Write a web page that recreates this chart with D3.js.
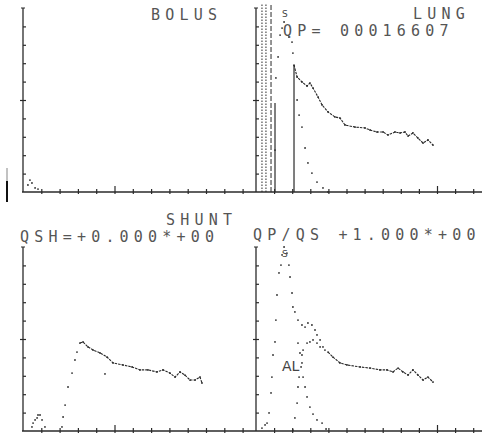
<!DOCTYPE html>
<html>
<head>
<meta charset="utf-8">
<script src="https://cdn.jsdelivr.net/npm/d3@7"></script>
<style>
  body { margin: 0; background: #fff; }
  svg { display: block; }
</style>
</head>
<body>
<div id="chart"></div>
<script>
// Chart values, [time, counts].
const bolus = [[0.27, 0.38], [0.38, 0.65], [0.49, 0.49], [0.66, 0.22], [0.82, 0.16]];

const lungFirstPass = [
  [1.05, 2.28], [1.10, 6.20], [1.22, 7.34], [1.33, 8.53], [1.44, 8.91], [1.55, 9.24],
  [1.82, 8.42], [1.99, 8.15], [2.04, 7.55], [2.27, 5.00], [2.38, 4.18], [2.54, 3.53],
  [2.71, 2.39], [2.87, 1.58], [3.09, 1.03], [3.37, 0.54], [3.70, 0.22], [3.98, 0.00]
];
const lungCurve = [
  [2.10, 6.90], [2.27, 6.25], [2.54, 5.98], [2.82, 5.76], [2.98, 5.92], [3.15, 5.65],
  [3.43, 5.16], [3.65, 4.73], [3.98, 4.35], [4.36, 4.08], [4.64, 4.02], [4.92, 3.64],
  [5.47, 3.53], [6.02, 3.48], [6.30, 3.37], [6.69, 3.26], [7.02, 3.26], [7.29, 3.10],
  [7.68, 3.26], [7.96, 3.21], [8.23, 3.26], [8.40, 3.04], [8.67, 3.21], [8.95, 2.93],
  [9.23, 2.66], [9.50, 2.83], [9.78, 2.55]
];
// vertical markers on the lung panel: [time, height, style]
const lungMarkers = [[0.33, 10.25, "dot"], [0.55, 10.25, "dot"], [0.83, 10.25, "dash"], [1.05, 4.84, "solid"], [2.10, 6.90, "solid"]];

const shuntBump = [[0.49, 0.22], [0.55, 0.43], [0.66, 0.60], [0.77, 0.71], [0.82, 0.87], [0.93, 0.87], [1.04, 0.60], [1.20, 0.22]];
const shuntRise = [[2.13, 0.22], [2.19, 0.76], [2.30, 1.41], [2.46, 2.39], [2.68, 3.15], [2.84, 3.86], [2.95, 4.29], [4.48, 3.10]];
const shuntCurve = [
  [3.11, 4.78], [3.28, 4.84], [3.55, 4.57], [3.83, 4.40], [4.21, 4.24], [4.59, 4.02],
  [4.92, 3.70], [5.46, 3.59], [5.96, 3.48], [6.39, 3.32], [6.83, 3.32], [7.32, 3.21],
  [7.65, 3.32], [8.03, 3.15], [8.31, 2.93], [8.58, 3.21], [8.85, 3.04], [9.13, 2.77],
  [9.40, 2.77], [9.67, 2.93], [9.78, 2.61]
];

const qpRaw = [
  [0.33, 0.16], [0.50, 0.33], [0.61, 0.43], [0.72, 0.98], [0.83, 2.07], [0.88, 2.93],
  [0.94, 4.13], [1.05, 4.84], [1.10, 6.03], [1.16, 7.39], [1.27, 8.59], [1.38, 9.02],
  [1.44, 9.57], [1.55, 10.0], [1.71, 9.67], [1.82, 9.02], [1.88, 8.37], [1.99, 7.50],
  [2.04, 6.74], [2.15, 6.47], [2.32, 6.03], [2.54, 5.76], [2.71, 5.65], [2.87, 5.87],
  [3.09, 5.76], [3.26, 5.49], [3.37, 5.22], [3.54, 4.95], [3.70, 4.57]
];
const qpCurve = [
  [3.98, 4.29], [4.25, 4.02], [4.64, 3.70], [5.03, 3.59], [5.75, 3.48], [6.30, 3.42],
  [6.85, 3.32], [7.24, 3.32], [7.57, 3.21], [7.85, 3.42], [8.12, 3.21], [8.40, 3.04],
  [8.67, 3.32], [8.95, 3.04], [9.23, 2.77], [9.50, 2.93], [9.78, 2.66]
];
const alRise = [
  [2.04, 0.05], [2.15, 0.71], [2.27, 1.52], [2.32, 2.39], [2.38, 2.93], [2.49, 3.48],
  [2.54, 4.13], [2.60, 4.40], [2.82, 4.78], [2.98, 4.84], [3.15, 4.95], [3.37, 4.78],
  [3.54, 4.57], [3.81, 4.40]
];
const firstPassFit = [
  [2.32, 4.78], [2.43, 4.24], [2.54, 3.70], [2.60, 2.93], [2.71, 2.39], [2.82, 1.85],
  [2.98, 1.30], [3.15, 0.92], [3.37, 0.60], [3.65, 0.43], [3.87, 0.11]
];

const xTicks = d3.range(1, 13);
const yTicks = d3.range(1, 10);

const width = 482;
const height = 433;
const ink = "#2a2a2a";

const svg = d3.create("svg")
    .attr("width", width)
    .attr("height", height);

// scales, one pair per panel
const xLeft = d3.scaleLinear().domain([0, 12.6]).range([23, 23 + 12.6 * 18.3]);
const xRight = d3.scaleLinear().domain([0, 12.5]).range([256, 256 + 12.5 * 18.1]);
const yTop = d3.scaleLinear().domain([0, 10]).range([192, 8]);
const yBot = d3.scaleLinear().domain([0, 10]).range([431, 247]);

// baselines across the whole sheet
[192, 431].forEach(b => {
  svg.append("line")
      .attr("x1", 22).attr("x2", width)
      .attr("y1", b).attr("y2", b)
      .attr("stroke", ink).attr("stroke-width", 1.3);
});

function xAxis(x, y, major) {
  const g = svg.append("g")
      .attr("transform", `translate(0,${y(0)})`)
      .call(d3.axisBottom(x).tickValues(xTicks).tickSize(-3).tickSizeOuter(0).tickFormat(""));
  g.select(".domain").remove();
  g.selectAll(".tick line")
      .attr("stroke", ink)
      .attr("stroke-width", 1.2)
      .attr("y1", 2)
      .attr("y2", d => d === major ? -6 : -3);
}

function yAxis(x, y) {
  const g = svg.append("g")
      .attr("transform", `translate(${x(0)},0)`)
      .call(d3.axisLeft(y).tickValues(yTicks).tickSize(-3).tickSizeOuter(0).tickFormat(""));
  g.select(".domain").remove();
  g.selectAll(".tick line")
      .attr("stroke", ink)
      .attr("stroke-width", 1.2)
      .attr("x1", d => d === 5 ? -3 : 0);
  g.append("line")
      .attr("y1", y(0)).attr("y2", y(10))
      .attr("stroke", ink).attr("stroke-width", 1.3);
  g.append("line")
      .attr("x1", -2).attr("x2", 2)
      .attr("y1", y(10)).attr("y2", y(10))
      .attr("stroke", ink);
}

xAxis(xLeft, yTop, 5);
xAxis(xRight, yTop, 10);
xAxis(xLeft, yBot, 5);
xAxis(xRight, yBot, 10);
yAxis(xLeft, yTop);
yAxis(xRight, yTop);
yAxis(xLeft, yBot);
yAxis(xRight, yBot);

function dots(data, x, y) {
  svg.append("g")
    .selectAll("circle")
    .data(data)
    .join("circle")
      .attr("cx", d => x(d[0]))
      .attr("cy", d => y(d[1]))
      .attr("r", 0.9)
      .attr("fill", ink);
}

function trace(data, x, y) {
  svg.append("path")
      .datum(data)
      .attr("fill", "none")
      .attr("stroke", ink)
      .attr("stroke-width", 1.1)
      .attr("stroke-dasharray", "2.5,1")
      .attr("d", d3.line().x(d => x(d[0])).y(d => y(d[1])));
  dots(data, x, y);
}

// BOLUS
dots(bolus, xLeft, yTop);

// LUNG
svg.append("g")
  .selectAll("line")
  .data(lungMarkers)
  .join("line")
    .attr("x1", d => xRight(d[0])).attr("x2", d => xRight(d[0]))
    .attr("y1", yTop(0)).attr("y2", d => yTop(d[1]))
    .attr("stroke", ink)
    .attr("stroke-width", d => d[2] === "solid" ? 1.2 : 1)
    .attr("stroke-dasharray", d => d[2] === "dot" ? "1.5,1.5" : d[2] === "dash" ? "5,2" : null);
dots(lungFirstPass, xRight, yTop);
trace(lungCurve, xRight, yTop);

// SHUNT
dots(shuntBump, xLeft, yBot);
dots(shuntRise, xLeft, yBot);
trace(shuntCurve, xLeft, yBot);

// QP/QS
dots(qpRaw, xRight, yBot);
trace(qpCurve, xRight, yBot);
dots(alRise, xRight, yBot);
dots(firstPassFit, xRight, yBot);

// small mark at the left edge
svg.append("line").attr("x1", 7).attr("x2", 7).attr("y1", 168).attr("y2", 181)
    .attr("stroke", "#999").attr("stroke-width", 1.2);
svg.append("line").attr("x1", 7).attr("x2", 7).attr("y1", 181).attr("y2", 202)
    .attr("stroke", "#111").attr("stroke-width", 2);

// printer text
const labels = [
  { text: "BOLUS", x: 151, y: 20 },
  { text: "LUNG", x: 413, y: 19 },
  { text: "QP=  00016607", x: 283, y: 36 },
  { text: "SHUNT", x: 166, y: 225 },
  { text: "QSH=+0.000*+00", x: 20, y: 242 },
  { text: "QP/QS +1.000*+00", x: 253, y: 240 }
];
svg.append("g")
  .selectAll("text")
  .data(labels)
  .join("text")
    .attr("x", d => d.x)
    .attr("y", d => d.y)
    .attr("font-family", "DejaVu Sans Mono, monospace")
    .attr("font-size", 15)
    .attr("letter-spacing", 5.2)
    .attr("fill", "#555")
    .text(d => d.text);

const marks = [
  { text: "S", x: 282, y: 17, size: 9 },
  { text: "S", x: 282, y: 257, size: 9 },
  { text: "AL", x: 282, y: 371, size: 14 }
];
svg.append("g")
  .selectAll("text")
  .data(marks)
  .join("text")
    .attr("x", d => d.x)
    .attr("y", d => d.y)
    .attr("font-family", "DejaVu Sans, sans-serif")
    .attr("font-size", d => d.size)
    .attr("fill", "#444")
    .text(d => d.text);

d3.select("#chart").append(() => svg.node());
</script>
</body>
</html>
